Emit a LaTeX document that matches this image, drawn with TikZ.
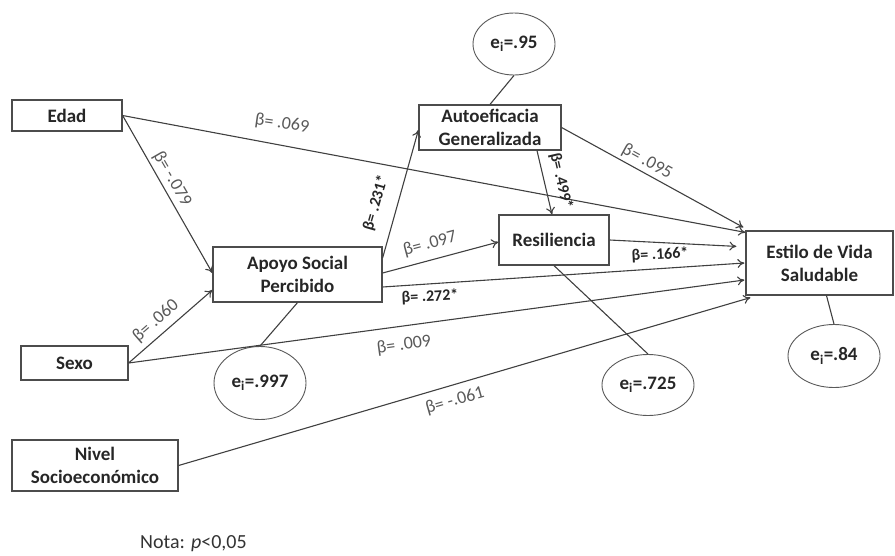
\documentclass[tikz,border=0pt]{standalone}
\usepackage{fontspec}
\setmainfont{Carlito}
\usetikzlibrary{arrows.meta,shapes.geometric}
\begin{document}
\begin{tikzpicture}[x=1pt,y=-1pt,
  box/.style={draw=black!70, line width=1.2pt, rectangle, inner sep=0pt, align=center,
    font=\fontsize{19}{23}\selectfont\bfseries, text=black!85},
  err/.style={draw=black!65, line width=0.9pt, ellipse, inner sep=0pt,
    font=\fontsize{19}{23}\selectfont\bfseries, text=black!85},
  arr/.style={draw=black!75, line width=1.1pt, -{To[length=7pt,width=9pt]}},
  lnk/.style={draw=black!75, line width=1.1pt},
  lab/.style={font=\fontsize{18}{20}\selectfont, text=black!65, inner sep=0pt},
  blab/.style={font=\fontsize{16}{18}\selectfont\bfseries, text=black!85, inner sep=0pt}]
\useasboundingbox (0,0) rectangle (895,555);

% boxes
\node[box, minimum width=110pt, minimum height=31pt] (edad) at (67,115.5) {Edad};
\node[box, minimum width=169pt, minimum height=55pt] (apoyo) at (297.5,274.5) {Apoyo Social\\Percibido};
\node[box, minimum width=142pt, minimum height=45pt] (auto) at (490,127.5) {Autoeficacia\\Generalizada};
\node[box, minimum width=110pt, minimum height=50pt] (resil) at (554,240) {Resiliencia};
\node[box, minimum width=147pt, minimum height=64pt] (estilo) at (819.5,263) {Estilo de Vida\\Saludable};
\node[box, minimum width=107pt, minimum height=34pt] (sexo) at (74.5,363) {Sexo};
\node[box, minimum width=166pt, minimum height=51pt] (nivel) at (95,465.5) {Nivel\\Socioeconómico};

% error ellipses
\node[err, minimum width=82pt, minimum height=62pt] (e1) at (514,44) {e\textsubscript{i}=.95};
\node[err, minimum width=92pt, minimum height=73pt] (e2) at (260,383) {e\textsubscript{i}=.997};
\node[err, minimum width=92pt, minimum height=61pt] (e3) at (648,385) {e\textsubscript{i}=.725};
\node[err, minimum width=92pt, minimum height=63pt] (e4) at (834,356) {e\textsubscript{i}=.84};

% error links
\draw[lnk] (e1.south) -- (auto.north);
\draw[lnk] (apoyo.south) -- (e2.north);
\draw[lnk] (resil.south) -- (e3.north);
\draw[lnk] ([xshift=7pt]estilo.south) -- (e4.north);

% paths
\draw[arr] (edad.east) -- ([yshift=1.5pt]apoyo.west);
\draw[arr] (sexo.east) -- ([yshift=-15.5pt]apoyo.west);
\draw[arr] (edad.east) -- ([yshift=-2pt]estilo.north west);
\draw[arr] (auto.east) -- ([xshift=-2pt,yshift=3pt]estilo.north west);
\coordinate (rend) at ([xshift=-9pt,yshift=-16pt]estilo.north west);
\draw[arr] (resil.east) -- (rend);
\draw[arr] ([yshift=16.5pt]apoyo.east) -- ([yshift=-2.5pt]auto.west);
\draw[arr] ([yshift=1.5pt]apoyo.east) -- ([yshift=-2pt]resil.west);
\draw[arr] ([yshift=-12.5pt]apoyo.east) -- ([xshift=-1pt]estilo.west);
\draw[arr] (sexo.east) -- ([xshift=-1pt,yshift=-17pt]estilo.west);
\draw[arr] (nivel.east) -- ([xshift=5pt,yshift=-2pt]estilo.south west);
\draw[arr] ([xshift=47pt]auto.south) -- ([xshift=-2pt]resil.north);

% labels
\node[lab, rotate=-8] (l1) at (282,124) {β= .069};
\node[lab, rotate=-60] (l2) at (172,179) {β= -.079};
\node[lab, rotate=41] (l3) at (156,321) {β= .060};
\node[blab, rotate=74] (l4) at (376,203) {β= .231*};
\node[lab, rotate=15] (l5) at (430,244) {β= .097};
\node[blab, rotate=3] (l6) at (430,297) {β= .272*};
\node[blab, rotate=3] (l7) at (660,255) {β= .166*};
\node[lab, rotate=8] (l8) at (404,345) {β= .009};
\node[lab, rotate=16] (l9) at (455,401) {β= -.061};
\node[lab, rotate=-29] (l10) at (647,162) {β= .095};
\node[blab, rotate=-77] (l11) at (561,181) {β= .499*};

\node[anchor=base west, inner sep=0pt, font=\fontsize{20}{24}\selectfont, text=black!80] (nota) at (140,548) {Nota: \textit{p}<0,05};
\end{tikzpicture}
\end{document}
